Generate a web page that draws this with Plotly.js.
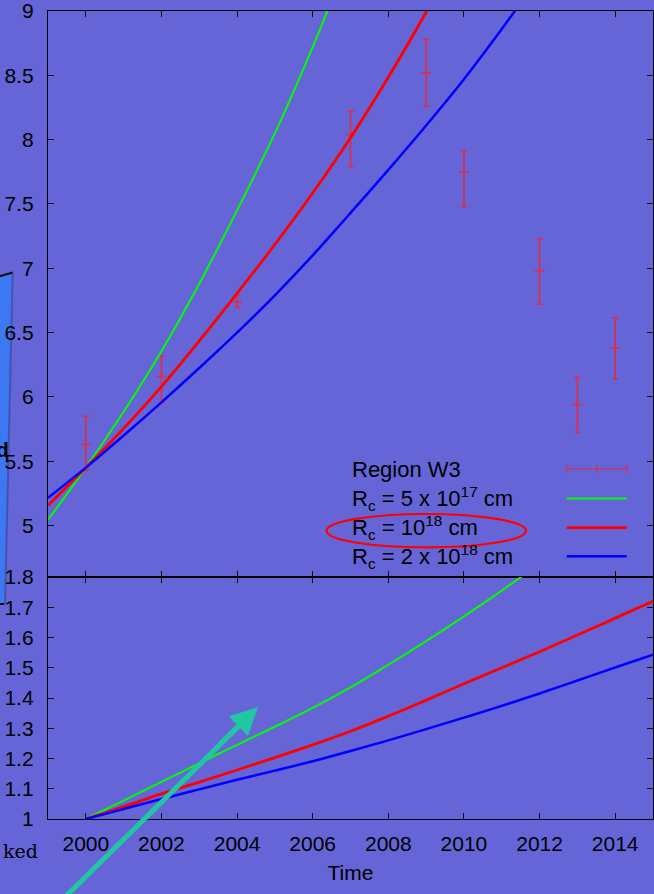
<!DOCTYPE html>
<html>
<head>
<meta charset="utf-8">
<script src="https://cdn.plot.ly/plotly-3.0.1.min.js"></script>
<style>html,body{margin:0;padding:0;background:#6565d7;}#chart{width:654px;height:894px;}</style>
</head>
<body>
<div id="chart"></div>
<script>
// ---- observed data (Region W3) ----
const obsYears = [2000, 2002, 2004, 2007, 2009, 2010, 2012, 2013, 2014];
const obsValues = [5.63, 6.16, 6.74, 8.04, 8.52, 7.75, 6.98, 5.94, 6.38];
const obsErrPlus = [0.22, 0.16, 0.05, 0.18, 0.26, 0.165, 0.25, 0.21, 0.235];
const obsErrMinus = [0.20, 0.21, 0.045, 0.25, 0.26, 0.27, 0.26, 0.215, 0.24];

// ---- model curves, top panel ----
const greenYears = [1999, 2000, 2001, 2002, 2003, 2004, 2005, 2006, 2007];
const greenValues = [5.045, 5.45, 5.885, 6.355, 6.88, 7.45, 8.05, 8.72, 9.45];
const redYears = [1999, 2000, 2001, 2002, 2003, 2004, 2005, 2006, 2007, 2008, 2009, 2010];
const redValues = [5.157, 5.45, 5.755, 6.08, 6.435, 6.805, 7.185, 7.585, 8.015, 8.485, 8.99, 9.52];
const blueYears = [1999, 2000, 2001, 2002, 2003, 2004, 2005, 2006, 2007, 2008, 2009, 2010, 2011, 2012];
const blueValues = [5.215, 5.45, 5.70, 5.958, 6.225, 6.50, 6.79, 7.10, 7.43, 7.765, 8.11, 8.47, 8.86, 9.27];

// ---- ratio curves, bottom panel ----
const ratioYears = [2000, 2001, 2002, 2003, 2004, 2005, 2006, 2007, 2008, 2009, 2010, 2011, 2012, 2013, 2014, 2015];
const greenRatio = [1.0, 1.061, 1.123, 1.184, 1.245, 1.305, 1.367, 1.435, 1.51, 1.588, 1.67, 1.755, 1.845, 1.94, 2.04, 2.145];
const redRatio = [1.0, 1.041, 1.083, 1.122, 1.162, 1.203, 1.245, 1.29, 1.34, 1.393, 1.447, 1.50, 1.553, 1.608, 1.664, 1.72];
const blueRatio = [1.0, 1.033, 1.066, 1.098, 1.13, 1.16, 1.191, 1.225, 1.26, 1.297, 1.335, 1.374, 1.415, 1.458, 1.501, 1.543];

// ---- text ----
const legendLabels = ['Region W3', 'R<sub>c</sub> = 5 x 10<sup>17</sup> cm', 'R<sub>c</sub> = 10<sup>18</sup> cm', 'R<sub>c</sub> = 2 x 10<sup>18</sup> cm'];
const xTitle = 'Time';

const BG = '#6565d7';
const FONT = 'Liberation Sans, Arial, sans-serif';
const GREEN = '#00ff00', RED = '#ff0000', BLUE = '#0000ff', ERR = '#e8283c';

// pixel -> paper helpers for decorations
const L = 48, R = 653, T = 11, B = 819;
const px = v => (v - L) / (R - L);
const py = v => (B - v) / (B - T);

const traces = [
  {x: obsYears, y: obsValues, xaxis: 'x', yaxis: 'y', type: 'scatter', mode: 'markers',
   marker: {symbol: 'line-ew-open', size: 7, color: ERR, line: {color: ERR, width: 1.5}},
   error_y: {type: 'data', symmetric: false, array: obsErrPlus, arrayminus: obsErrMinus, color: ERR, thickness: 1.5, width: 3}},
  {x: greenYears, y: greenValues, xaxis: 'x', yaxis: 'y', mode: 'lines', line: {color: GREEN, width: 2, shape: 'spline', smoothing: 1}},
  {x: redYears, y: redValues, xaxis: 'x', yaxis: 'y', mode: 'lines', line: {color: RED, width: 2.8, shape: 'spline', smoothing: 1}},
  {x: blueYears, y: blueValues, xaxis: 'x', yaxis: 'y', mode: 'lines', line: {color: BLUE, width: 2.5, shape: 'spline', smoothing: 1}},
  {x: ratioYears, y: greenRatio, xaxis: 'x2', yaxis: 'y2', mode: 'lines', line: {color: GREEN, width: 2, shape: 'spline', smoothing: 1}},
  {x: ratioYears, y: redRatio, xaxis: 'x2', yaxis: 'y2', mode: 'lines', line: {color: RED, width: 2.8, shape: 'spline', smoothing: 1}},
  {x: ratioYears, y: blueRatio, xaxis: 'x2', yaxis: 'y2', mode: 'lines', line: {color: BLUE, width: 2.5, shape: 'spline', smoothing: 1}}
];

const axisCommon = {
  showgrid: false, zeroline: false, showline: true, linecolor: '#000', linewidth: 1.2,
  ticks: 'inside', ticklen: 6, tickcolor: '#111', tickwidth: 1, mirror: 'ticks',
  ticklabeloverflow: 'allow',
  tickfont: {family: FONT, size: 21, color: '#000'}
};
const split = (B - 577) / (B - T);

const legendY = [469, 498.5, 527.7, 556.3];
const sx0 = px(566.7), sx1 = px(626.7), smid = px(596.7);
const capH = 4 / (B - T);

const shapes = [];
// blue box at left edge (behind the tick labels)
const boxPath = `M ${px(-5)} ${py(277)} L ${px(12.7)} ${py(272.5)} L ${px(5)} ${py(605)} L ${px(-5)} ${py(605)} Z`;
shapes.push({type: 'path', xref: 'paper', yref: 'paper', layer: 'below', path: boxPath, fillcolor: '#3b78f2', line: {width: 0}});
shapes.push({type: 'line', xref: 'paper', yref: 'paper', layer: 'below', x0: px(12.7), x1: px(5), y0: py(273), y1: py(605), line: {color: 'rgba(50,50,120,0.45)', width: 2}});
shapes.push({type: 'line', xref: 'paper', yref: 'paper', layer: 'below', x0: px(-5), x1: px(12.7), y0: py(277.5), y1: py(272.5), line: {color: '#111', width: 2}});
shapes.push({type: 'line', xref: 'paper', yref: 'paper', layer: 'below', x0: px(-5), x1: px(4), y0: py(604), y1: py(604), line: {color: '#111', width: 2}});
// legend samples
shapes.push({type: 'line', xref: 'paper', yref: 'paper', x0: sx0, x1: sx1, y0: py(legendY[0]), y1: py(legendY[0]), line: {color: ERR, width: 1.2}});
[sx0, sx1, smid].forEach(xx => shapes.push({type: 'line', xref: 'paper', yref: 'paper', x0: xx, x1: xx, y0: py(legendY[0]) - capH, y1: py(legendY[0]) + capH, line: {color: ERR, width: 1.2}}));
[[GREEN, 2], [RED, 2.8], [BLUE, 2.5]].forEach((c, i) => shapes.push({type: 'line', xref: 'paper', yref: 'paper', x0: sx0, x1: sx1, y0: py(legendY[i + 1]), y1: py(legendY[i + 1]), line: {color: c[0], width: c[1]}}));
// red ellipse around legend entry
shapes.push({type: 'circle', xref: 'paper', yref: 'paper', x0: px(326.6), x1: px(526), y0: py(547.4), y1: py(514), line: {color: RED, width: 2.2}});
// teal arrow shaft
shapes.push({type: 'line', xref: 'paper', yref: 'paper', x0: px(62), y0: py(900), x1: px(243), y1: py(722), line: {color: '#1fc8a0', width: 5}});

const annotations = [];
legendLabels.forEach((t, i) => annotations.push({
  text: t, xref: 'paper', yref: 'paper', x: px(350), y: py(legendY[i]), xanchor: 'left', yanchor: 'middle',
  showarrow: false, font: {family: FONT, size: 22, color: '#000'}
}));
annotations.push({text: '<b>d</b>', xref: 'paper', yref: 'paper', x: px(11), y: py(449), xanchor: 'right', yanchor: 'middle', showarrow: false, font: {family: FONT, size: 21, color: '#000'}});
annotations.push({text: 'ked', xref: 'paper', yref: 'paper', x: px(40), y: py(851), xanchor: 'right', yanchor: 'middle', showarrow: false, font: {family: 'DejaVu Serif, serif', size: 19, color: '#000'}});
// arrow head
annotations.push({text: '', xref: 'paper', yref: 'paper', x: px(258), y: py(707), showarrow: true,
  arrowhead: 2, arrowsize: 1.1, arrowwidth: 5, arrowcolor: '#1fc8a0', axref: 'pixel', ayref: 'pixel', ax: -40, ay: 39, standoff: 0});

const layout = {
  width: 654, height: 894,
  margin: {l: L, r: 654 - R, t: T, b: 894 - B},
  paper_bgcolor: BG, plot_bgcolor: BG,
  showlegend: false,
  xaxis: Object.assign({}, axisCommon, {domain: [0, 1], range: [1999, 2015], anchor: 'y', dtick: 2, tick0: 2000, showticklabels: false}),
  yaxis: Object.assign({}, axisCommon, {domain: [split, 1], range: [4.6, 9], anchor: 'x', dtick: 0.5, tick0: 5, ticklabelstandoff: 9}),
  xaxis2: Object.assign({}, axisCommon, {domain: [0, 1], range: [1999, 2015], anchor: 'y2', dtick: 2, tick0: 2000, ticklabelstandoff: 6,
    title: {text: xTitle, font: {family: FONT, size: 21, color: '#000'}, standoff: 10}, automargin: false}),
  yaxis2: Object.assign({}, axisCommon, {domain: [0, split], range: [1, 1.8], anchor: 'x2', dtick: 0.1, tick0: 1, ticklabelstandoff: 9}),
  shapes: shapes,
  annotations: annotations
};

Plotly.newPlot('chart', traces, layout, {displayModeBar: false, staticPlot: true});
</script>
</body>
</html>
